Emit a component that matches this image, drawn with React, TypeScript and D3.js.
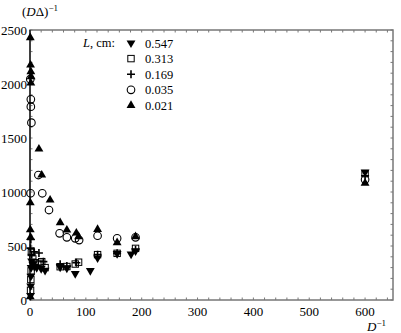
import * as d3 from "d3"

// L = 0.547 cm (filled inverted triangles)
const s547: [number, number][] = [
  [1, 40], [1.2, 130], [1.5, 220], [2, 300], [3, 360], [5, 330], [8, 310], [12, 300],
  [20, 290], [27, 275], [54, 305], [66, 295], [81, 245], [108, 272], [121, 389],
  [156, 430], [181, 425], [189, 455], [600, 1185],
]
// L = 0.313 cm (open squares)
const s313: [number, number][] = [
  [1, 90], [1.5, 190], [2, 270], [2.5, 440], [5, 380], [9, 345], [14, 330], [18, 340],
  [21, 355], [27, 300], [54, 308], [66, 310], [81, 333], [87, 350], [121, 420],
  [156, 432], [189, 478], [600, 1170],
]
// L = 0.169 cm (plus)
const s169: [number, number][] = [
  [1, 480], [1.5, 560], [3, 420], [7, 447], [16, 435], [24, 355], [54, 330],
  [66, 314], [83, 345], [121, 420], [156, 432], [189, 466], [600, 1150],
]
// L = 0.035 cm (open circles)
const s035: [number, number][] = [
  [0.5, 2045], [1.5, 1858], [1.5, 1790], [2.5, 1642], [1, 988], [15, 1157], [22, 988],
  [34, 833], [53, 617], [66, 580], [81, 571], [88, 555], [121, 595], [156, 571],
  [189, 580], [600, 1115],
]
// L = 0.021 cm (filled triangles)
const s021: [number, number][] = [
  [0.5, 2429], [1, 2176], [1.5, 2114], [2, 2068], [1.5, 2009], [0.5, 900], [0.5, 650],
  [1, 580], [0.5, 30], [16, 1398], [21, 1157], [36, 926], [54, 716], [66, 648],
  [83, 620], [87, 586], [121, 654], [156, 531], [189, 586], [600, 1082],
]

const legendLabels = ["0.547", "0.313", "0.169", "0.035", "0.021"]
const xTicks = [0, 100, 200, 300, 400, 500, 600]
const yTicks = [0, 500, 1000, 1500, 2000, 2500]

const W = 401
const H = 333
const m = { left: 30, right: 8, top: 30, bottom: 33 }

const x = d3.scaleLinear().domain([0, 650]).range([m.left, W - m.right])
const y = d3.scaleLinear().domain([0, 2500]).range([H - m.bottom, m.top])

const font = "'Liberation Serif', 'DejaVu Serif', serif"

type Kind = "invtri" | "square" | "plus" | "circle" | "tri"

function Marker({ kind, cx, cy }: { kind: Kind; cx: number; cy: number }) {
  if (kind === "tri" || kind === "invtri") {
    const p = d3.symbol().type(d3.symbolTriangle).size(34)()
    return (
      <path d={p ?? ""} fill="black"
        transform={`translate(${cx},${cy}) rotate(${kind === "invtri" ? 180 : 0})`} />
    )
  }
  if (kind === "square") {
    return <rect x={cx - 3.2} y={cy - 3.2} width={6.4} height={6.4} fill="none" stroke="black" strokeWidth={1} />
  }
  if (kind === "circle") {
    return <circle cx={cx} cy={cy} r={3.8} fill="none" stroke="black" strokeWidth={1.1} />
  }
  return (
    <path d={`M${cx - 4},${cy}H${cx + 4}M${cx},${cy - 4}V${cy + 4}`} stroke="black" strokeWidth={1.6} />
  )
}

const series: { kind: Kind; data: [number, number][] }[] = [
  { kind: "invtri", data: s547 },
  { kind: "square", data: s313 },
  { kind: "plus", data: s169 },
  { kind: "circle", data: s035 },
  { kind: "tri", data: s021 },
]

export default function App() {
  const [x0, x1] = x.range()
  const [y0, y1] = y.range()
  const xMinor = d3.range(0, 651, 20)
  const yMinor = d3.range(0, 2501, 100)
  const axisColor = "#777"
  return (
    <svg width={W} height={H} style={{ position: "absolute", left: 0, top: 0, fontFamily: font }}>
      <rect width={W} height={H} fill="white" />
      {/* minor ticks, inward on all sides */}
      {xMinor.map(v => (
        <g key={"xm" + v} stroke={axisColor} strokeWidth={1}>
          <line x1={x(v)} x2={x(v)} y1={y0} y2={y0 - 2.5} />
          <line x1={x(v)} x2={x(v)} y1={y1} y2={y1 + 2.5} />
        </g>
      ))}
      {yMinor.map(v => (
        <g key={"ym" + v} stroke={axisColor} strokeWidth={1}>
          <line x1={x0} x2={x0 + 2.5} y1={y(v)} y2={y(v)} />
          <line x1={x1} x2={x1 - 2.5} y1={y(v)} y2={y(v)} />
        </g>
      ))}
      <rect x={x0} y={y1} width={x1 - x0} height={y0 - y1} fill="none" stroke={axisColor} strokeWidth={1.5} />
      <line x1={x0} x2={x0} y1={y0} y2={y1} stroke="#222" strokeWidth={1.5} />
      {xTicks.map(v => (
        <text key={"xt" + v} x={x(v)} y={y0 + 16} fontSize={13} textAnchor="middle">{v}</text>
      ))}
      {yTicks.map(v => (
        <text key={"yt" + v} x={x0 - 3} y={y(v) + 4.5} fontSize={13} textAnchor="end">{v}</text>
      ))}
      <text x={22} y={16} fontSize={13}>
        (<tspan fontStyle="italic">D</tspan>Δ)<tspan dy={-5} fontSize={9}>−1</tspan>
      </text>
      <text x={367} y={331} fontSize={13}>
        <tspan fontStyle="italic">D</tspan><tspan dy={-5} fontSize={9}>−1</tspan>
      </text>
      {series.map(s => s.data.map((d, i) => (
        <Marker key={s.kind + i} kind={s.kind} cx={x(d[0])} cy={y(d[1])} />
      )))}
      <text x={83} y={47} fontSize={12.5}>
        <tspan fontStyle="italic">L</tspan>, cm:
      </text>
      {series.map((s, i) => (
        <g key={"lg" + i}>
          <Marker kind={s.kind} cx={131} cy={43 + i * 15.6} />
          <text x={145} y={47.5 + i * 15.6} fontSize={12.5}>{legendLabels[i]}</text>
        </g>
      ))}
    </svg>
  )
}
